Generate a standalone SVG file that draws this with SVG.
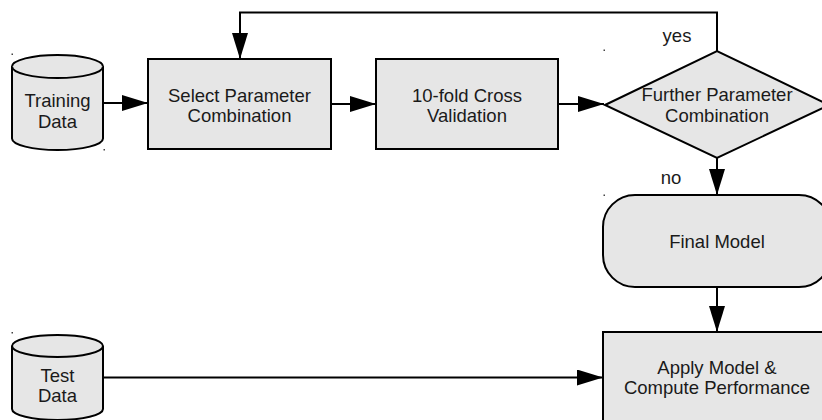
<svg xmlns="http://www.w3.org/2000/svg" width="822" height="420" viewBox="0 0 822 420">
  <defs>
    <marker id="arrow" viewBox="0 0 26 16" refX="26" refY="8" markerWidth="26" markerHeight="16" markerUnits="userSpaceOnUse" orient="auto">
      <path d="M0,0 L26,8 L0,16 Z" fill="#000"/>
    </marker>
  </defs>
  <style>
    .shape { fill: #e6e6e6; stroke: #000; stroke-width: 2; }
    .edge { fill: none; stroke: #000; stroke-width: 2; marker-end: url(#arrow); }
    .label { font-family: "Liberation Sans", Arial, sans-serif; font-size: 18.5px; fill: #1a1a1a; text-anchor: middle; }
    .dot { fill: #444; }
  </style>
  <rect width="822" height="420" fill="#fff"/>

  <!-- corner marks -->
  <g id="marks">
    <rect class="dot" x="11.5" y="53.5" width="1.5" height="1.5"/>
    <rect class="dot" x="103.5" y="149" width="1.5" height="1.5"/>
    <rect class="dot" x="603.5" y="49.5" width="1.5" height="1.5"/>
    <rect class="dot" x="603.5" y="194.5" width="1.5" height="1.5"/>
    <rect class="dot" x="11.5" y="332" width="1.5" height="1.5"/>
  </g>

  <!-- connectors -->
  <g id="connectors">
    <path class="edge" d="M103,103 L148,103"/>
    <path class="edge" d="M331,104 L376,104"/>
    <path class="edge" d="M558,104 L604,104"/>
    <path class="edge" d="M717,51 L717,12.5 L240,12.5 L240,59"/>
    <path class="edge" d="M717,158 L717,195"/>
    <path class="edge" d="M717,287 L717,332"/>
    <path class="edge" d="M103,377.5 L603,377.5"/>
    <text class="label" x="677" y="42">yes</text>
    <text class="label" x="671" y="184">no</text>
  </g>

  <g id="training-data">
    <path class="shape" d="M12,66.5 A45.5,11.5 0 0 1 103,66.5 L103,138.5 A45.5,11.5 0 0 1 12,138.5 Z"/>
    <path class="shape" d="M12,66.5 A45.5,11.5 0 0 0 103,66.5" fill="none"/>
    <text class="label" x="57.5" y="106.5">Training</text>
    <text class="label" x="57.5" y="127.5">Data</text>
  </g>

  <g id="select-parameter">
    <rect class="shape" x="148" y="59" width="183" height="90"/>
    <text class="label" x="239.5" y="101.5">Select Parameter</text>
    <text class="label" x="239.5" y="122">Combination</text>
  </g>

  <g id="cross-validation">
    <rect class="shape" x="376" y="59" width="182" height="90"/>
    <text class="label" x="467" y="101.5">10-fold Cross</text>
    <text class="label" x="467" y="122">Validation</text>
  </g>

  <g id="further-parameter">
    <path class="shape" d="M605,105 L717,51 L829,105 L717,158 Z"/>
    <text class="label" x="717" y="100.5">Further Parameter</text>
    <text class="label" x="717" y="121.5">Combination</text>
  </g>

  <g id="final-model">
    <rect class="shape" x="603" y="195" width="228" height="92" rx="32" ry="32"/>
    <text class="label" x="717" y="247.5">Final Model</text>
  </g>

  <g id="apply-model">
    <rect class="shape" x="603" y="332" width="228" height="92"/>
    <text class="label" x="717" y="373.5">Apply Model &amp;</text>
    <text class="label" x="717" y="394">Compute Performance</text>
  </g>

  <g id="test-data">
    <path class="shape" d="M12,346 A45.5,11 0 0 1 103,346 L103,409 A45.5,11 0 0 1 12,409 Z"/>
    <path class="shape" d="M12,346 A45.5,11 0 0 0 103,346" fill="none"/>
    <text class="label" x="57.5" y="381.5">Test</text>
    <text class="label" x="57.5" y="401.5">Data</text>
  </g>
</svg>
